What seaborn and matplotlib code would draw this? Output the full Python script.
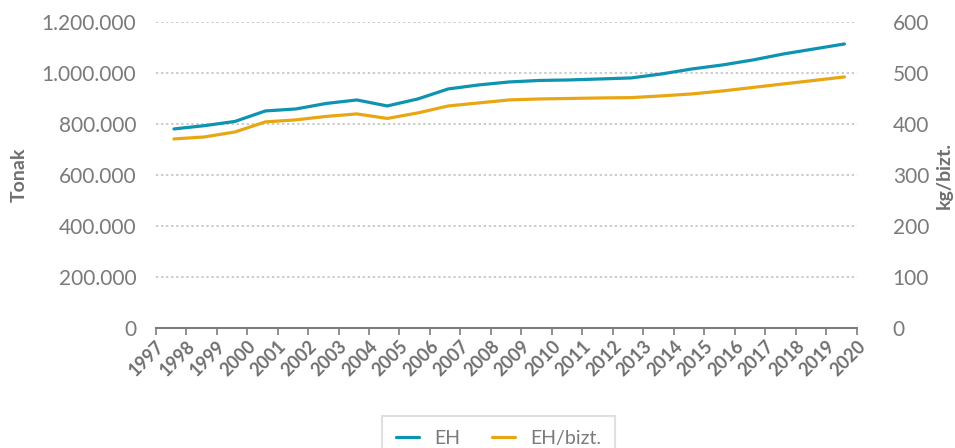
import numpy as np
import pandas as pd
import matplotlib
matplotlib.use("Agg")
import matplotlib.pyplot as plt
import seaborn as sns
from matplotlib.ticker import FuncFormatter, MultipleLocator

# ===================== 数据 =====================
years = list(range(1997, 2020))
eh_tonak = [780400, 793300, 809800, 851000, 858800, 880400, 894100, 870600,
            898000, 937300, 953000, 964700, 970600, 972600, 976500, 980400,
            996100, 1015700, 1031400, 1051000, 1074500, 1094100, 1113700]
eh_bizt = [370.6, 374.5, 384.3, 404.0, 408.0, 414.8, 419.7, 410.8,
           421.6, 435.3, 441.2, 447.1, 449.0, 450.0, 451.0, 451.6,
           455.0, 458.9, 464.7, 471.6, 478.5, 485.3, 492.2]
tick_years = list(range(1997, 2021))

blue = "#0e93b0"
orange = "#e9a613"
gray = "#6e6f71"
label_gray = "#7a7a7a"
grid_gray = "#bdbdbd"

sns.set_theme(style="white")
plt.rcParams["font.family"] = ["Lato", "DejaVu Sans"]

df = pd.DataFrame({"urtea": np.array(years) + 0.6, "EH": eh_tonak, "EH/bizt.": eh_bizt})

fig = plt.figure(figsize=(9.55, 4.48), dpi=100)
ax = fig.add_axes([0.163, 0.268, 0.734, 0.683])
ax2 = ax.twinx()

sns.lineplot(data=df, x="urtea", y="EH", ax=ax, color=blue, linewidth=2.3, label="EH", legend=False)
sns.lineplot(data=df, x="urtea", y="EH/bizt.", ax=ax2, color=orange, linewidth=2.3, label="EH/bizt.", legend=False)

# ---- ardatzak ----
ax.set_xlim(1997, 2020)
ax.set_ylim(0, 1200000)
ax2.set_ylim(0, 600)
ax.yaxis.set_major_locator(MultipleLocator(200000))
ax2.yaxis.set_major_locator(MultipleLocator(100))
ax.yaxis.set_major_formatter(FuncFormatter(lambda v, p: f"{v:,.0f}".replace(",", ".")))

ax.set_xticks(tick_years)
ax.set_xticklabels([str(y) for y in tick_years], rotation=45, ha="right",
                   rotation_mode="anchor", fontsize=13, fontweight="bold", color=gray)

for a in (ax, ax2):
    for s in a.spines.values():
        s.set_visible(False)
ax.spines["bottom"].set_visible(True)
ax.spines["bottom"].set_color("#7d7d7d")
ax.spines["bottom"].set_linewidth(1.5)
ax.spines["bottom"].set_zorder(5)

ax.tick_params(axis="x", bottom=True, length=5, width=1.2, color="#7d7d7d", pad=2)
ax.tick_params(axis="y", left=False, labelsize=15, labelcolor=label_gray, pad=8)
ax2.tick_params(axis="y", right=False, labelsize=15, labelcolor=label_gray, pad=20)

# grid
for v in ax.get_yticks()[1:]:
    ax.axhline(v, color=grid_gray, linewidth=1.1, linestyle=(0, (1.5, 1.8)), zorder=0)

ax.set_xlabel("")
ax.set_ylabel("Tonak", fontsize=14, fontweight="bold", color=gray, labelpad=10)
ax2.set_ylabel("kg/bizt.", fontsize=14, fontweight="bold", color=gray, labelpad=5, rotation=90)

# legend
h1, l1 = ax.get_legend_handles_labels()
h2, l2 = ax2.get_legend_handles_labels()
leg = fig.legend(h1 + h2, l1 + l2, loc="center", bbox_to_anchor=(0.522, 0.022), ncol=2,
                 frameon=True, fancybox=False, fontsize=14, handlelength=1.2,
                 columnspacing=1.6, borderpad=0.7, labelcolor=label_gray)
leg.get_frame().set_edgecolor("#d9d9d9")
leg.get_frame().set_linewidth(1.5)

fig.savefig("out.png", dpi=100)
